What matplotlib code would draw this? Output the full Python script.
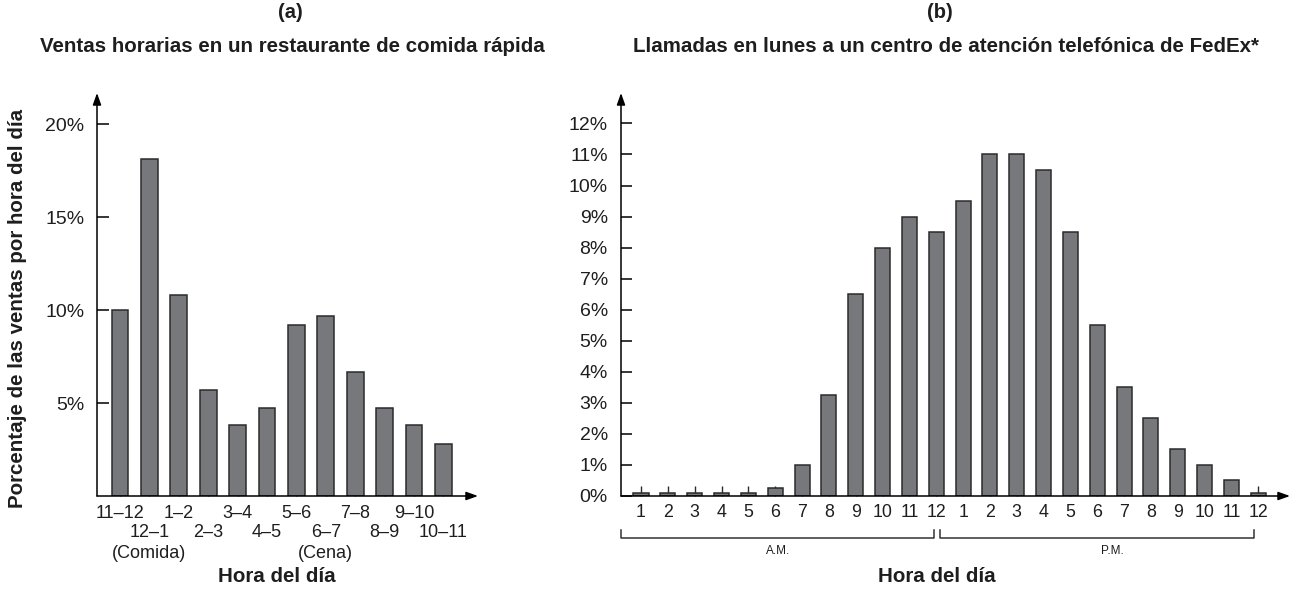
import matplotlib
matplotlib.use('Agg')
import matplotlib.pyplot as plt
import numpy as np

plt.rcParams['font.family'] = ['Liberation Sans', 'DejaVu Sans']

# (a) hourly sales at a fast food restaurant
sales_labels = ['11–12', '12–1', '1–2', '2–3', '3–4', '4–5',
                '5–6', '6–7', '7–8', '8–9', '9–10', '10–11']
sales_notes = ['', '(Comida)', '', '', '', '', '', '(Cena)', '', '', '', '']
sales_pct = [10.0, 18.1, 10.8, 5.7, 3.8, 4.75, 9.2, 9.7, 6.65, 4.75, 3.8, 2.8]
sales_yticks = [5, 10, 15, 20]

# (b) Monday calls to a FedEx call centre
call_hours = [1, 2, 3, 4, 5, 6, 7, 8, 9, 10, 11, 12,
              1, 2, 3, 4, 5, 6, 7, 8, 9, 10, 11, 12]
call_pct = [0.1, 0.1, 0.1, 0.1, 0.1, 0.25, 1.0, 3.25, 6.5, 8.0, 9.0, 8.5,
            9.5, 11.0, 11.0, 10.5, 8.5, 5.5, 3.5, 2.5, 1.5, 1.0, 0.5, 0.1]
call_yticks = list(range(0, 13))
periods = ['A.M.', 'P.M.']

BAR = '#77787b'
EDGE = '#2b2b2b'
TXT = '#1e1e1e'

W, H = 1291, 589
fig = plt.figure(figsize=(W / 100, H / 100), dpi=100)


def px_axes(x0, x1, y_top, y_bot):
    return fig.add_axes([x0 / W, (H - y_bot) / H, (x1 - x0) / W, (y_bot - y_top) / H])


def draw_arrows(ax):
    for s in ax.spines.values():
        s.set_visible(False)
    style = dict(arrowstyle='-|>,head_length=0.7,head_width=0.25', lw=1.1,
                 color='black', shrinkA=0, shrinkB=0)
    ax.annotate('', xy=(1, 0), xytext=(0, 0), xycoords='axes fraction',
                arrowprops=style, annotation_clip=False)
    ax.annotate('', xy=(0, 1), xytext=(0, 0), xycoords='axes fraction',
                arrowprops=style, annotation_clip=False)


# ---- left chart ----
ax1 = px_axes(97, 478, 93, 496)
x1 = np.arange(len(sales_pct))
ax1.bar(x1, sales_pct, width=0.57, color=BAR, edgecolor=EDGE, linewidth=1.1, zorder=2)
ax1.set_xlim(-0.785, 12.18)
ax1.set_ylim(0, 21.67)
draw_arrows(ax1)

ax1.set_xticks(x1)
ax1.set_xticklabels([])
ax1.tick_params(axis='x', direction='in', length=7.2, width=1, color=EDGE)
# staggered hour labels: even bars on the first row, odd bars on the second
row_y = [-0.043, -0.091, -0.142]
for i, lab in enumerate(sales_labels):
    r = i % 2
    ax1.text(i, row_y[r], lab, transform=ax1.get_xaxis_transform(), fontsize=13,
             ha='center', va='center', color=TXT)
    if sales_notes[i]:
        ax1.text(i, row_y[2], sales_notes[i], transform=ax1.get_xaxis_transform(),
                 fontsize=13, ha='center', va='center', color=TXT)

ax1.set_yticks(sales_yticks)
ax1.set_yticklabels([f'{v}%' for v in sales_yticks], fontsize=14, color=TXT)
ax1.tick_params(axis='y', direction='in', length=8.5, width=1.1, pad=9)
for t in ax1.xaxis.get_major_ticks():
    t.tick1line.set_zorder(3)

# ---- right chart ----
ax2 = px_axes(621, 1290, 93, 496)
x2 = np.arange(len(call_pct))
ax2.bar(x2, call_pct, width=0.56, color=BAR, edgecolor=EDGE, linewidth=1.1, zorder=2)
ax2.set_xlim(-0.745, 24.18)
ax2.set_ylim(0, 12.98)
draw_arrows(ax2)
ax2.set_xticks(x2)
ax2.set_xticklabels([str(h) for h in call_hours], fontsize=12.8, color=TXT)
ax2.tick_params(axis='x', direction='in', length=7.2, width=1, color=EDGE, pad=6)
ax2.set_yticks(call_yticks)
ax2.set_yticklabels([f'{v}%' for v in call_yticks], fontsize=14, color=TXT)
ax2.tick_params(axis='y', direction='in', length=8, width=1.1, pad=9.5)

# A.M. / P.M. brackets under the hour labels
half = len(call_hours) // 2
spans = [(-0.745, half - 1 - 0.08, 5.09), (half - 1 + 0.14, 2 * half - 1 - 0.17, 17.57)]
for (a, b, tx), name in zip(spans, periods):
    ax2.plot([a, a, b, b], [-1.085, -1.353, -1.353, -1.085], color='#333333',
             lw=1.1, clip_on=False)
    ax2.text(tx, -1.78, name, fontsize=8.5, ha='center', va='center', color=TXT)

# ---- titles and axis titles ----
fig.text(290 / W, 1 - 12 / H, '(a)', ha='center', va='center', fontsize=14.5,
         fontweight='bold', color=TXT)
fig.text(292 / W, 1 - 47 / H, 'Ventas horarias en un restaurante de comida rápida',
         ha='center', va='center', fontsize=14.8, fontweight='bold', color=TXT)
fig.text(940 / W, 1 - 12 / H, '(b)', ha='center', va='center', fontsize=14.5,
         fontweight='bold', color=TXT)
fig.text(946 / W, 1 - 47 / H, 'Llamadas en lunes a un centro de atención telefónica de FedEx*',
         ha='center', va='center', fontsize=14.8, fontweight='bold', color=TXT)
fig.text(277 / W, 1 - 577 / H, 'Hora del día', ha='center', va='center', fontsize=14.8,
         fontweight='bold', color=TXT)
fig.text(937 / W, 1 - 577 / H, 'Hora del día', ha='center', va='center', fontsize=14.8,
         fontweight='bold', color=TXT)
fig.text(18 / W, 1 - 308 / H, 'Porcentaje de las ventas por hora del día', rotation=90,
         ha='center', va='center', fontsize=14.8, fontweight='bold', color=TXT)

fig.savefig('out.png', dpi=100)
